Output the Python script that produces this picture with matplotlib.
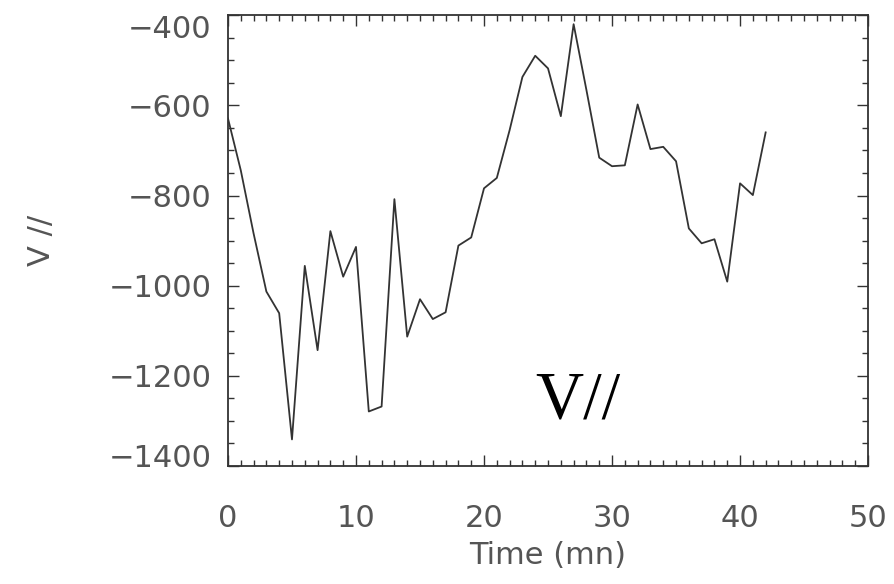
import numpy as np
import matplotlib.pyplot as plt
from matplotlib.ticker import MultipleLocator
import matplotlib.transforms as mtransforms

# parallel velocity vs time
time_mn = np.arange(0, 43)
v_par = [-629, -744, -884, -1013, -1061, -1341, -956, -1143, -879, -980,
         -914, -1279, -1268, -808, -1113, -1030, -1074, -1059, -911, -893,
         -784, -761, -655, -537, -490, -518, -624, -420, -566, -716,
         -735, -733, -598, -697, -692, -724, -873, -906, -897, -991,
         -773, -799, -660]

xticks = [0, 10, 20, 30, 40, 50]
yticks = [-1400, -1200, -1000, -800, -600, -400]

fig = plt.figure(figsize=(8.94, 5.84), dpi=100)
ax = fig.add_axes([0.255, 0.202, 0.716, 0.772])

ax.plot(time_mn, v_par, color='#333333', lw=1.3)

ax.set_xlim(0, 50)
ax.set_ylim(-1400, -400)
ax.set_xticks(xticks)
ax.set_yticks(yticks)
ax.xaxis.set_minor_locator(MultipleLocator(1))
ax.yaxis.set_minor_locator(MultipleLocator(50))
ax.tick_params(which='both', direction='in', top=True, right=True,
               color='#333333', width=1.0, labelsize=22, labelcolor='#555555')
ax.tick_params(which='major', length=8)
ax.tick_params(which='minor', length=4)
ax.tick_params(axis='y', which='major', pad=12)
ax.tick_params(axis='x', which='major', pad=27)
for s in ax.spines.values():
    s.set_linewidth(1.3)
    s.set_color('#333333')

# end labels sit slightly inside the frame in the original
ylabs = ax.get_yticklabels()
ylabs[0].set_transform(ylabs[0].get_transform() +
                       mtransforms.ScaledTranslation(0, 11/100, fig.dpi_scale_trans))
ylabs[-1].set_transform(ylabs[-1].get_transform() +
                        mtransforms.ScaledTranslation(0, -11/100, fig.dpi_scale_trans))

ax.set_xlabel('Time (mn)', fontsize=22, color='#555555', labelpad=6)
ax.set_ylabel('V //', fontsize=22, color='#555555', labelpad=38)

ax.text(27.3, -1256, 'V//', fontsize=48, family='Liberation Serif',
        ha='center', va='center', color='black')

plt.savefig('out.png', dpi=100)
